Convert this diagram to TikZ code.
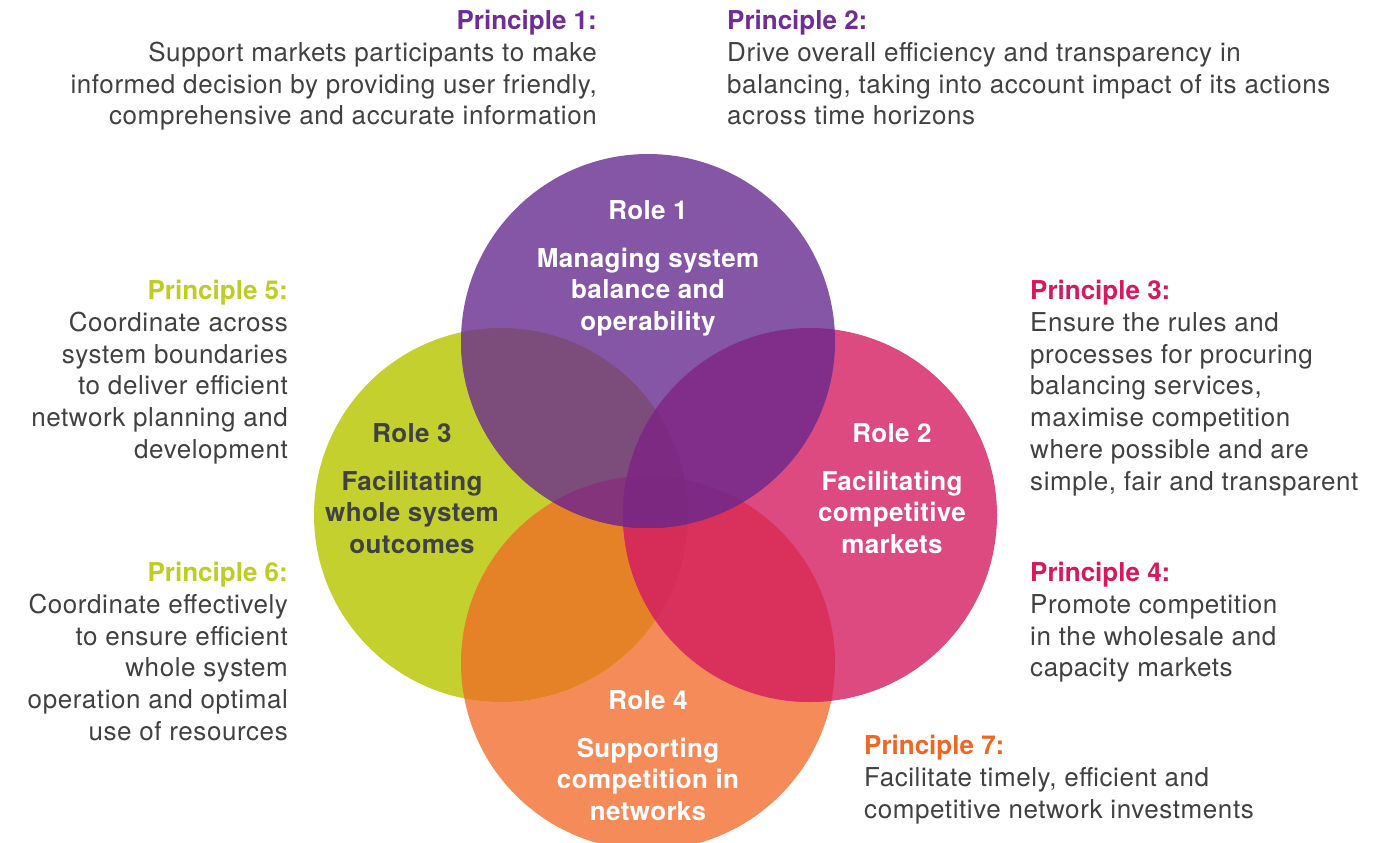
\documentclass[tikz,border=0pt]{standalone}
\usepackage{fontspec}
\setmainfont{TeX Gyre Heros}
\newfontfamily\bodyfont[LetterSpace=2.2]{TeX Gyre Heros}
\newfontfamily\headfont{TeX Gyre Heros}
\newfontfamily\rolefont[LetterSpace=1.4]{TeX Gyre Heros}
\usepackage{xcolor}
\usetikzlibrary{
	positioning                 % For "below=of node" syntax
}

% role colours and the colours where the discs overlap
\definecolor{roleA}{RGB}{133,86,165}
\definecolor{roleB}{RGB}{220,74,128}
\definecolor{roleC}{RGB}{196,208,46}
\definecolor{roleD}{RGB}{246,139,90}
\definecolor{mixAC}{RGB}{124,76,122}
\definecolor{mixAB}{RGB}{128,46,137}
\definecolor{mixCD}{RGB}{229,129,38}
\definecolor{mixBD}{RGB}{217,48,92}
\definecolor{mixACD}{RGB}{131,52,122}
\definecolor{mixABC}{RGB}{124,42,130}
\definecolor{mixABD}{RGB}{126,42,132}
\definecolor{mixBCD}{RGB}{213,45,88}
\definecolor{mixAll}{RGB}{125,40,128}
% text colours
\definecolor{headA}{RGB}{112,45,150}
\definecolor{headB}{RGB}{214,25,95}
\definecolor{headC}{RGB}{190,205,35}
\definecolor{headD}{RGB}{240,102,35}
\definecolor{bodygrey}{RGB}{65,65,65}

\newcommand{\ringr}{187pt}
\newcommand{\phead}[2]{{\headfont\bfseries\color{#1}#2}}

\tikzset{
	princ/.style={
		inner sep=0pt,
		text=bodygrey,
		font=\fontsize{26}{31.8}\bodyfont
	},
	roletitle/.style={
		inner sep=0pt,
		anchor=north,
		font=\fontsize{26}{31.6}\rolefont\bfseries
	},
	roletext/.style={
		inner sep=0pt,
		align=center,
		font=\fontsize{26}{31.6}\rolefont\bfseries
	}
}

\begin{document}
\begin{tikzpicture}[x=1pt, y=-1pt]
	\useasboundingbox (0,0) rectangle (1389,843);
	\clip (0,0) rectangle (1389,843);

	% Centres of the four role discs
	\coordinate (c1) at (648,341);
	\coordinate (c2) at (810,515);
	\coordinate (c3) at (501,515);
	\coordinate (c4) at (648,663);

	% Plain discs
	\fill[roleD] (c4) circle (\ringr);
	\fill[roleC] (c3) circle (\ringr);
	\fill[roleB] (c2) circle (\ringr);
	\fill[roleA] (c1) circle (\ringr);

	% Two-way overlaps
	\begin{scope}
		\clip (c3) circle (\ringr);
		\fill[mixCD] (c4) circle (\ringr);
	\end{scope}
	\begin{scope}
		\clip (c2) circle (\ringr);
		\fill[mixBD] (c4) circle (\ringr);
	\end{scope}
	\begin{scope}
		\clip (c1) circle (\ringr);
		\fill[mixAC] (c3) circle (\ringr);
	\end{scope}
	\begin{scope}
		\clip (c1) circle (\ringr);
		\fill[mixAB] (c2) circle (\ringr);
	\end{scope}

	% Three-way and four-way overlaps
	\begin{scope}
		\clip (c2) circle (\ringr);
		\clip (c3) circle (\ringr);
		\fill[mixBCD] (c4) circle (\ringr);
	\end{scope}
	\begin{scope}
		\clip (c1) circle (\ringr);
		\clip (c3) circle (\ringr);
		\fill[mixACD] (c4) circle (\ringr);
	\end{scope}
	\begin{scope}
		\clip (c1) circle (\ringr);
		\clip (c2) circle (\ringr);
		\fill[mixABD] (c4) circle (\ringr);
	\end{scope}
	\begin{scope}
		\clip (c1) circle (\ringr);
		\clip (c2) circle (\ringr);
		\fill[mixABC] (c3) circle (\ringr);
	\end{scope}
	\begin{scope}
		\clip (c1) circle (\ringr);
		\clip (c2) circle (\ringr);
		\clip (c3) circle (\ringr);
		\fill[mixAll] (c4) circle (\ringr);
	\end{scope}

	% Role labels
	\node[roletitle, text=white] (role1) at (648,200) {Role 1};
	\node[roletext, text=white, below=28pt of role1] (role1txt) {Managing system\\balance and\\operability};

	\node[roletitle, text=bodygrey] (role3) at (412,423) {Role 3};
	\node[roletext, text=bodygrey, below=28pt of role3] (role3txt) {Facilitating\\whole system\\outcomes};

	\node[roletitle, text=white] (role2) at (892,423) {Role 2};
	\node[roletext, text=white, below=28pt of role2] (role2txt) {Facilitating\\competitive\\markets};

	\node[roletitle, text=white] (role4) at (648,690) {Role 4};
	\node[roletext, text=white, below=28pt of role4] (role4txt) {Supporting\\competition in\\networks};

	% Principles round the discs
	\node[princ, align=right, anchor=north east] (pr1) at (597,10)
		{\phead{headA}{Principle 1:}\\Support markets participants to make\\informed decision by providing user friendly,\\comprehensive and accurate information};
	\node[princ, align=left, anchor=north west] (pr2) at (727,10)
		{\phead{headA}{Principle 2:}\\Drive overall efficiency and transparency in\\balancing, taking into account impact of its actions\\across time horizons};
	\node[princ, align=left, anchor=north west] (pr3) at (1030,280)
		{\phead{headB}{Principle 3:}\\Ensure the rules and\\processes for procuring\\balancing services,\\maximise competition\\where possible and are\\simple, fair and transparent};
	\node[princ, align=left, anchor=north west] (pr4) at (1030,562)
		{\phead{headB}{Principle 4:}\\Promote competition\\in the wholesale and\\capacity markets};
	\node[princ, align=right, anchor=north east] (pr5) at (288,280)
		{\phead{headC}{Principle 5:}\\Coordinate across\\system boundaries\\to deliver efficient\\network planning and\\development};
	\node[princ, align=right, anchor=north east] (pr6) at (288,562)
		{\phead{headC}{Principle 6:}\\Coordinate effectively\\to ensure efficient\\whole system\\operation and optimal\\use of resources};
	\node[princ, align=left, anchor=north west] (pr7) at (864,735)
		{\phead{headD}{Principle 7:}\\Facilitate timely, efficient and\\competitive network investments};
\end{tikzpicture}
\end{document}
